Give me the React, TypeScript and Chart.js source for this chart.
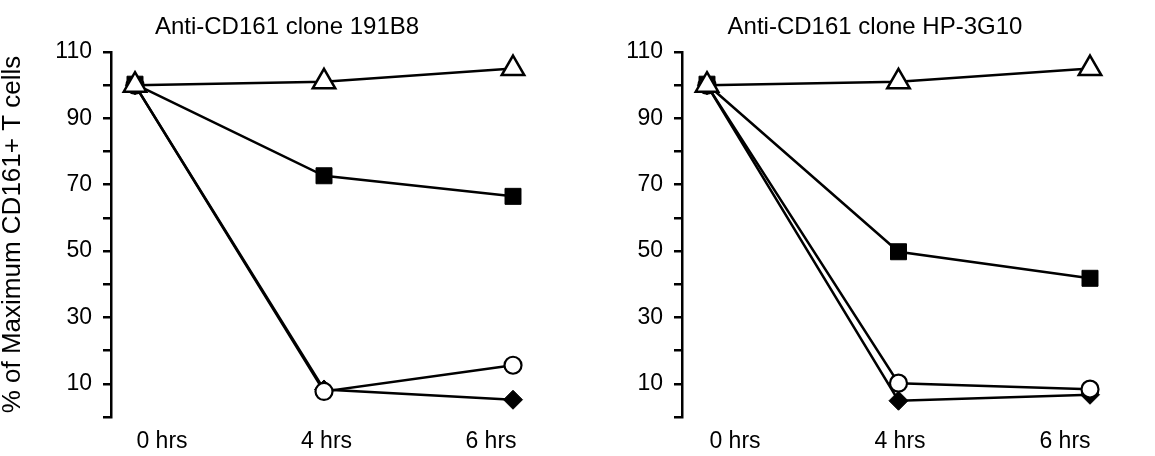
import React, { useEffect, useRef } from "react";
import { Chart, registerables } from "chart.js";

Chart.register(...registerables);

const FONT = "'Liberation Sans', Arial, Helvetica, sans-serif";

const timeLabels = ["0 hrs", "4 hrs", "6 hrs"];
const timeIndex = [0, 1, 2];
const yTicks = [0, 10, 20, 30, 40, 50, 60, 70, 80, 90, 100, 110];
const yTitle = "% of Maximum CD161+ T cells";

const leftTitle = "Anti-CD161 clone 191B8";
const leftTriangle = [100, 101, 105];
const leftSquare = [100.3, 72.7, 66.5];
const leftCircle = [100, 7.7, 15.6];
const leftDiamond = [100, 8.3, 5.2];

const rightTitle = "Anti-CD161 clone HP-3G10";
const rightTriangle = [100, 101, 105];
const rightSquare = [100.3, 49.8, 41.8];
const rightCircle = [100, 10.2, 8.4];
const rightDiamond = [100, 4.9, 6.7];

type Panel = {
  title: string;
  triangle: number[];
  square: number[];
  circle: number[];
  diamond: number[];
  showYTitle: boolean;
  yWidth: number;
  padLeft: number;
  padRight: number;
  xMin: number;
  xMax: number;
  lMin: number;
  lMax: number;
};

function pts(vals: number[]) {
  return timeIndex.map((t, i) => ({ x: t, y: vals[i] }));
}

function makeConfig(p: Panel): any {
  const common = {
    borderColor: "#000",
    borderWidth: 2.5,
    tension: 0,
    xAxisID: "x",
    yAxisID: "y",
    pointHoverRadius: 0,
    clip: false,
  };
  return {
    type: "line",
    data: {
      datasets: [
        {
          ...common,
          label: "triangle",
          data: pts(p.triangle),
          pointStyle: "triangle",
          pointRadius: 13,
          pointBackgroundColor: "#fff",
          pointBorderColor: "#000",
          pointBorderWidth: 2.5,
        },
        {
          ...common,
          label: "circle",
          data: pts(p.circle),
          pointStyle: "circle",
          pointRadius: 8.5,
          pointBackgroundColor: "#fff",
          pointBorderColor: "#000",
          pointBorderWidth: 2.2,
        },
        {
          ...common,
          label: "diamond",
          data: pts(p.diamond),
          pointStyle: "rectRot",
          pointRadius: 9.5,
          pointBackgroundColor: "#000",
          pointBorderColor: "#000",
          pointBorderWidth: 1,
        },
        {
          ...common,
          label: "square",
          data: pts(p.square),
          pointStyle: "rect",
          pointRadius: 11.3,
          pointBackgroundColor: "#000",
          pointBorderColor: "#000",
          pointBorderWidth: 1,
        },
      ],
    },
    options: {
      animation: false,
      responsive: false,
      devicePixelRatio: 1,
      events: [],
      layout: {
        autoPadding: false,
        padding: { left: p.padLeft, right: p.padRight, top: 0, bottom: 0 },
      },
      plugins: {
        legend: { display: false },
        tooltip: { enabled: false },
        title: {
          display: true,
          text: p.title,
          color: "#000",
          font: { family: FONT, size: 24, weight: "normal", lineHeight: 1.2 },
          padding: { top: 13.2, bottom: 10 },
        },
      },
      scales: {
        x: {
          type: "linear",
          display: false,
          min: p.xMin,
          max: p.xMax,
        },
        xl: {
          type: "linear",
          position: "bottom",
          min: p.lMin,
          max: p.lMax,
          afterBuildTicks: (s: any) => {
            s.ticks = timeIndex.map((v) => ({ value: v }));
          },
          afterFit: (s: any) => {
            s.height = 39;
            s.paddingLeft = 0;
            s.paddingRight = 0;
          },
          ticks: {
            autoSkip: false,
            maxRotation: 0,
            color: "#000",
            padding: 10.7,
            font: { family: FONT, size: 23, lineHeight: 1.2 },
            callback: (v: any) => timeLabels[v] ?? "",
          },
          grid: { display: false, drawTicks: false },
          border: { display: false },
        },
        y: {
          type: "linear",
          position: "left",
          min: 0,
          max: 110,
          afterBuildTicks: (s: any) => {
            s.ticks = yTicks.map((v) => ({ value: v }));
          },
          afterFit: (s: any) => {
            s.width = p.yWidth;
            s.paddingTop = 0;
            s.paddingBottom = 0;
          },
          ticks: {
            color: "#000",
            padding: 11,
            font: { family: FONT, size: 23, lineHeight: 1.2 },
            callback: (v: any) => (v % 20 === 10 ? String(v) : ""),
          },
          grid: {
            display: true,
            drawOnChartArea: false,
            drawTicks: true,
            tickLength: 8,
            color: "#000",
            lineWidth: 2.5,
          },
          border: { display: true, color: "#000", width: 2.5 },
          title: {
            display: p.showYTitle,
            text: yTitle,
            color: "#000",
            padding: 0,
            font: { family: FONT, size: 26, lineHeight: 1.0 },
          },
        },
      },
    },
  };
}

const leftPanel: Panel = {
  title: leftTitle,
  triangle: leftTriangle,
  square: leftSquare,
  circle: leftCircle,
  diamond: leftDiamond,
  showYTitle: true,
  yWidth: 111,
  padLeft: 0,
  padRight: 3,
  xMin: -0.127,
  xMax: 2.3227,
  lMin: -0.31,
  lMax: 2.5046,
};

const rightPanel: Panel = {
  title: rightTitle,
  triangle: rightTriangle,
  square: rightSquare,
  circle: rightCircle,
  diamond: rightDiamond,
  showYTitle: false,
  yWidth: 87,
  padLeft: 18,
  padRight: 0,
  xMin: -0.1305,
  xMax: 2.3394,
  lMin: -0.3212,
  lMax: 2.5455,
};

function PanelChart({ panel, width, left }: { panel: Panel; width: number; left: number }) {
  const ref = useRef<HTMLCanvasElement | null>(null);
  useEffect(() => {
    if (!ref.current) return;
    const chart = new Chart(ref.current, makeConfig(panel));
    return () => chart.destroy();
  }, [panel]);
  return (
    <canvas
      ref={ref}
      width={width}
      height={456}
      style={{ position: "absolute", left, top: 0, width, height: 456 }}
    />
  );
}

export default function App() {
  return (
    <div
      style={{
        position: "fixed",
        left: 0,
        top: 0,
        width: 1155,
        height: 456,
        background: "#fff",
        overflow: "hidden",
      }}
    >
      <PanelChart panel={leftPanel} width={577} left={0} />
      <PanelChart panel={rightPanel} width={578} left={577} />
    </div>
  );
}
